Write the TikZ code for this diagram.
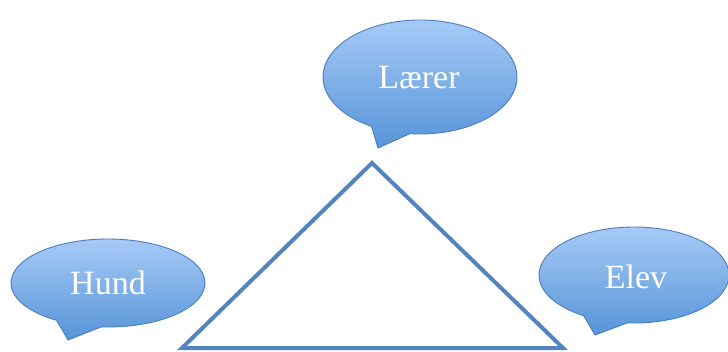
\documentclass[tikz,border=0pt]{standalone}
\usepackage{fontspec}
\setmainfont{Liberation Serif}
\definecolor{bubtop}{RGB}{168,203,247}
\definecolor{bubbot}{RGB}{86,148,216}
\definecolor{bubline}{RGB}{74,126,187}
\definecolor{triline}{RGB}{84,132,192}
\tikzset{
  bubble/.style={draw=bubline, line width=0.9pt, top color=bubtop, bottom color=bubbot, line join=round},
  bubtext/.style={text=white, font=\fontsize{34}{40}\selectfont, inner sep=0pt},
  triedge/.style={draw=triline, line width=4pt, line join=miter}
}
\begin{document}
\begin{tikzpicture}[x=1pt,y=1pt]
\useasboundingbox (0,0) rectangle (728,351);
% Laerer bubble
\coordinate (lc) at (420,274);
\coordinate (lt) at (378,203);
\path[bubble] (lc) ++(264:97 and 57) arc[start angle=264, end angle=600, x radius=97, y radius=57] -- (lt) -- cycle;
\node[bubtext] (laerer) at (419,273) {Lærer};
% Hund bubble
\coordinate (hc) at (108,68);
\coordinate (ht) at (68,11);
\path[bubble] (hc) ++(266:97 and 44) arc[start angle=266, end angle=598, x radius=97, y radius=44] -- (ht) -- cycle;
\node[bubtext] (hund) at (108,68) {Hund};
% Elev bubble
\coordinate (ec) at (634,76);
\coordinate (et) at (595,16);
\path[bubble] (ec) ++(266:95 and 48) arc[start angle=266, end angle=598, x radius=95, y radius=48] -- (et) -- cycle;
\node[bubtext] (elev) at (636,74) {Elev};
% triangle
\coordinate (apex) at (372,188);
\coordinate (bl) at (182,3);
\coordinate (br) at (563,3);
\draw[triedge, black!15, xshift=1.5pt, yshift=-1.5pt, line width=3pt, opacity=0.5] (apex) -- (br);
\draw[triedge] (apex) -- (bl) -- (br) -- cycle;
\end{tikzpicture}
\end{document}
